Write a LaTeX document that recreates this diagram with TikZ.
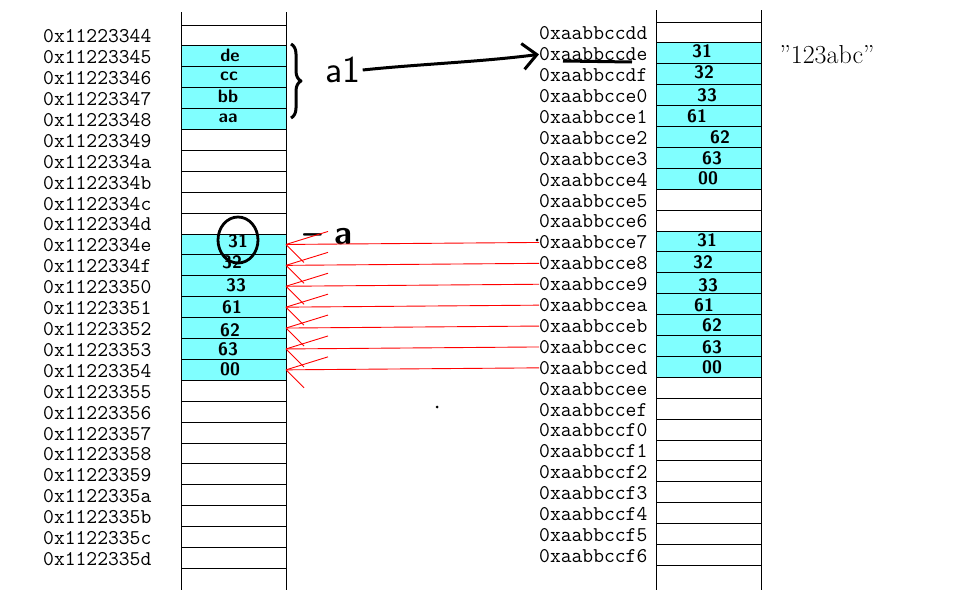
\documentclass[tikz,border=0pt]{standalone}
\usepackage{fontspec}
\usetikzlibrary{arrows.meta,decorations.pathreplacing}
\definecolor{cellcyan}{RGB}{128,255,255}
\begin{document}
\begin{tikzpicture}[x=1pt,y=-1pt,line join=round,
  cell/.style={draw,line width=0.9pt,minimum width=105pt,minimum height=20.9pt,inner sep=0pt,outer sep=0pt},
  addr/.style={font=\fontsize{21}{21}\selectfont\ttfamily,inner sep=0pt,anchor=west},
  hand/.style={font=\fontsize{18}{18}\selectfont\sffamily\bfseries,inner sep=0pt},
  redline/.style={red,line width=0.9pt},
  vline/.style={line width=0.9pt}]
\useasboundingbox (0,0) rectangle (962,597);
% cyan blocks
\fill[cellcyan] (181,45.9) rectangle (286,129.5);
\fill[cellcyan] (181,234) rectangle (286,380.3);
\fill[cellcyan] (656,42.9) rectangle (761,189.2);
\fill[cellcyan] (656,231) rectangle (761,377.3);
% left column
\foreach \h [count=\k from 0] in {44,45,46,47,48,49,4a,4b,4c,4d,4e,4f,50,51,52,53,54,55,56,57,58,59,5a,5b,5c,5d} {
  \node[cell] (L\k) at (233.5,{25+20.9*(\k+0.5)}) {};
  \node[addr] (LA\k) at (43,{26+20.9*(\k+0.5)}) {0x112233\h};
}
% right column
\foreach \h [count=\k from 0] in {dd,de,df,e0,e1,e2,e3,e4,e5,e6,e7,e8,e9,ea,eb,ec,ed,ee,ef,f0,f1,f2,f3,f4,f5,f6} {
  \node[cell] (R\k) at (708.5,{22+20.9*(\k+0.5)}) {};
  \node[addr] (RA\k) at (539,{23+20.9*(\k+0.5)}) {0xaabbcc\h};
}
\draw[vline] (181,12) -- (181,590);
\draw[vline] (286,12) -- (286,590);
\draw[vline] (656,10) -- (656,590);
\draw[vline] (761,10) -- (761,590);
% handwritten values, left top
\node[hand] (h1) at (230,55) {de};
\node[hand] (h2) at (229,76) {cc};
\node[hand] (h3) at (228,96) {bb};
\node[hand] (h4) at (228,118) {aa};
% left bottom
\node[hand] (hb1) at (238,241) {31};
\node[hand] (hb2) at (232,262) {32};
\node[hand] (hb3) at (236,285) {33};
\node[hand] (hb4) at (232,307) {61};
\node[hand] (hb5) at (230,330) {62};
\node[hand] (hb6) at (228,349) {63};
\node[hand] (hb7) at (230,369) {00};
% right top
\node[hand] (ht1) at (702,51) {31};
\node[hand] (ht2) at (704,72) {32};
\node[hand] (ht3) at (707,95) {33};
\node[hand] (ht4) at (697,116) {61};
\node[hand] (ht5) at (720,137) {62};
\node[hand] (ht6) at (712,158) {63};
\node[hand] (ht7) at (708,178) {00};
% right bottom
\node[hand] (hr1) at (707,240) {31};
\node[hand] (hr2) at (703,262) {32};
\node[hand] (hr3) at (708,285) {33};
\node[hand] (hr4) at (704,305) {61};
\node[hand] (hr5) at (712,325) {62};
\node[hand] (hr6) at (712,347) {63};
\node[hand] (hr7) at (712,367) {00};
% circle around 31
\draw[line width=2.8pt] (238,240) ellipse [x radius=20pt, y radius=23pt];
% string label
\node[font=\fontsize{26}{26}\selectfont,inner sep=0pt] (str) at (827,55) {”123abc”};
% brace and a1
\draw[decorate,decoration={brace,amplitude=10pt},line width=3pt] (291,44) -- (291,118);
\node[font=\fontsize{38}{38}\selectfont\sffamily,inner sep=2pt] (a1) at (343,70) {a1};
\draw[line width=3pt,-{Straight Barb[length=14pt,width=26pt]}] (a1.east) .. controls (420,64) and (480,62) .. (RA1.west);
\draw[line width=3pt] (563,61) -- (632,62);
% -a label
\node[font=\fontsize{34}{34}\selectfont\sffamily\bfseries,inner sep=0pt] (alab) at (328,237) {– a};
% red arrows
\foreach \k in {10,...,16} {
  \draw[redline] (RA\k.west) -- (L\k.east);
  \draw[redline] (L\k.east) -- ++(42,-13) (L\k.east) -- ++(18,18);
}
% stray dots
\fill (537,240) circle (1.5pt);
\fill (437,407) circle (1.5pt);
\end{tikzpicture}
\end{document}
